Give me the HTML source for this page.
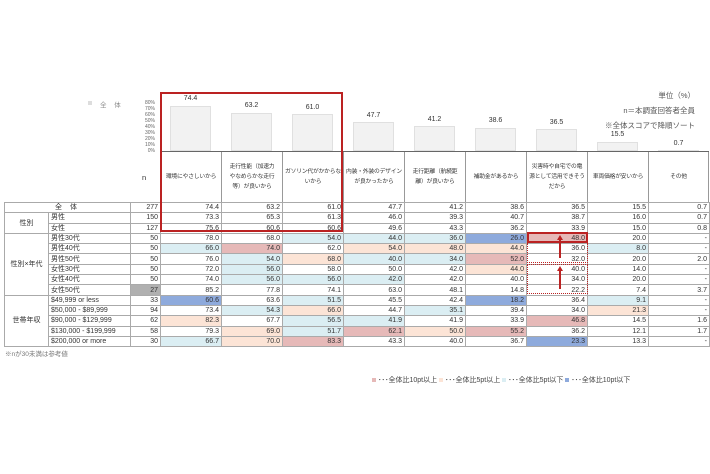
<!DOCTYPE html>
<html><head><meta charset="utf-8"><style>
body{margin:0;width:710px;height:474px;background:#fff;position:relative;overflow:hidden;font-family:"Liberation Sans","Noto Sans CJK JP",sans-serif;color:#222}
.a{position:absolute}
.bar{position:absolute;background:#f2f2f2;border:1px solid #e0e0e0;box-sizing:border-box;width:41px}
.bv{position:absolute;width:61px;text-align:center;font-size:7px;color:#333}
.yl{position:absolute;left:138px;width:17px;text-align:right;font-size:5px;color:#666;line-height:6px}
.hd{position:absolute;top:152px;height:50px;width:61px;border-left:1px solid #999;display:flex;align-items:center;justify-content:center;text-align:center;font-size:5.8px;letter-spacing:-0.2px;line-height:10px;color:#333;box-sizing:border-box;white-space:nowrap}
table{position:absolute;left:4px;top:202px;border-collapse:collapse;table-layout:fixed;font-size:7px;border:1.5px solid #444}
td{padding:0 2px;height:9.3px;line-height:9px;border:1px solid #aaa;white-space:nowrap;overflow:hidden;text-align:right;color:#333}
td.l{text-align:left}
td.g{text-align:center}
.P{background:#e6b9b8}.O{background:#fce4d6}.L{background:#dbeef3}.B{background:#8eaadc}.G{background:#b0b0b0}
tr.sep td{border-top:1.5px solid #444}
</style></head><body>
<div class="a" style="left:88px;top:101px;width:4px;height:4px;background:#ddd"></div>
<div class="a" style="left:100px;top:99px;font-size:6.5px;color:#888;letter-spacing:3px">全 体</div>
<div class="yl" style="top:100px">80%<br>70%<br>60%<br>50%<br>40%<br>30%<br>20%<br>10%<br>0%</div>

<div class="bar" style="left:170px;top:106px;height:45px"></div><div class="bv" style="left:160px;top:95px">74.4</div>
<div class="bar" style="left:231px;top:113px;height:38px"></div><div class="bv" style="left:221px;top:102px">63.2</div>
<div class="bar" style="left:292px;top:114px;height:37px"></div><div class="bv" style="left:282px;top:104px">61.0</div>
<div class="bar" style="left:353px;top:122px;height:29px"></div><div class="bv" style="left:343px;top:112px">47.7</div>
<div class="bar" style="left:414px;top:126px;height:25px"></div><div class="bv" style="left:404px;top:116px">41.2</div>
<div class="bar" style="left:475px;top:128px;height:23px"></div><div class="bv" style="left:465px;top:117px">38.6</div>
<div class="bar" style="left:536px;top:129px;height:22px"></div><div class="bv" style="left:526px;top:119px">36.5</div>
<div class="bar" style="left:597px;top:142px;height:9px"></div><div class="bv" style="left:587px;top:131px">15.5</div>
<div class="bar" style="left:658px;top:150px;height:1px"></div><div class="bv" style="left:648px;top:140px">0.7</div>

<div class="a" style="right:15px;top:90px;font-size:7.5px;color:#555">単位（%）</div>
<div class="a" style="right:15px;top:105px;font-size:7.5px;color:#555">n＝本調査回答者全員</div>
<div class="a" style="right:15px;top:120px;font-size:7.5px;color:#555">※全体スコアで降順ソート</div>

<div class="a" style="left:142px;top:173px;font-size:7.5px;color:#333">n</div>
<div class="a" style="left:160px;top:151px;width:549px;border-top:1px solid #666"></div>
<div class="hd" style="left:160px">環境にやさしいから</div>
<div class="hd" style="left:221px">走行性能（加速力<br>やなめらかな走行<br>等）が良いから</div>
<div class="hd" style="left:282px">ガソリン代がかからな<br>いから</div>
<div class="hd" style="left:343px">内装・外装のデザイン<br>が良かったから</div>
<div class="hd" style="left:404px">走行距離（航続距<br>離）が良いから</div>
<div class="hd" style="left:465px">補助金があるから</div>
<div class="hd" style="left:526px">災害時や自宅での電<br>源として活用できそう<br>だから</div>
<div class="hd" style="left:587px">車両価格が安いから</div>
<div class="hd" style="left:648px;border-right:1px solid #999">その他</div>

<table>
<colgroup><col style="width:44px"><col style="width:82px"><col style="width:30px"><col style="width:61px"><col style="width:61px"><col style="width:61px"><col style="width:61px"><col style="width:61px"><col style="width:61px"><col style="width:61px"><col style="width:61px"><col style="width:61px"></colgroup>
<tr><td colspan="2" class="g" style="letter-spacing:3px">全 体</td><td>277</td><td>74.4</td><td>63.2</td><td>61.0</td><td>47.7</td><td>41.2</td><td>38.6</td><td>36.5</td><td>15.5</td><td>0.7</td></tr>
<tr class="sep"><td rowspan="2" class="g">性別</td><td class="l">男性</td><td>150</td><td>73.3</td><td>65.3</td><td>61.3</td><td>46.0</td><td>39.3</td><td>40.7</td><td>38.7</td><td>16.0</td><td>0.7</td></tr>
<tr><td class="l">女性</td><td>127</td><td>75.6</td><td>60.6</td><td>60.6</td><td>49.6</td><td>43.3</td><td>36.2</td><td>33.9</td><td>15.0</td><td>0.8</td></tr>
<tr class="sep"><td rowspan="6" class="g">性別×年代</td><td class="l">男性30代</td><td>50</td><td>78.0</td><td>68.0</td><td class="L">54.0</td><td class="L">44.0</td><td class="L">36.0</td><td class="B">26.0</td><td class="P">48.0</td><td>20.0</td><td>-</td></tr>
<tr><td class="l">男性40代</td><td>50</td><td class="L">66.0</td><td class="P">74.0</td><td>62.0</td><td class="O">54.0</td><td class="O">48.0</td><td class="O">44.0</td><td>36.0</td><td class="L">8.0</td><td>-</td></tr>
<tr><td class="l">男性50代</td><td>50</td><td>76.0</td><td class="L">54.0</td><td class="O">68.0</td><td class="L">40.0</td><td class="L">34.0</td><td class="P">52.0</td><td>32.0</td><td>20.0</td><td>2.0</td></tr>
<tr><td class="l">女性30代</td><td>50</td><td>72.0</td><td class="L">56.0</td><td>58.0</td><td>50.0</td><td>42.0</td><td class="O">44.0</td><td>40.0</td><td>14.0</td><td>-</td></tr>
<tr><td class="l">女性40代</td><td>50</td><td>74.0</td><td class="L">56.0</td><td class="L">56.0</td><td class="L">42.0</td><td>42.0</td><td>40.0</td><td>34.0</td><td>20.0</td><td>-</td></tr>
<tr><td class="l">女性50代</td><td class="G">27</td><td>85.2</td><td>77.8</td><td>74.1</td><td>63.0</td><td>48.1</td><td>14.8</td><td>22.2</td><td>7.4</td><td>3.7</td></tr>
<tr class="sep"><td rowspan="5" class="g">世帯年収</td><td class="l">$49,999 or less</td><td>33</td><td class="B">60.6</td><td>63.6</td><td class="L">51.5</td><td>45.5</td><td>42.4</td><td class="B">18.2</td><td>36.4</td><td class="L">9.1</td><td>-</td></tr>
<tr><td class="l">$50,000 - $89,999</td><td>94</td><td>73.4</td><td class="L">54.3</td><td class="O">66.0</td><td>44.7</td><td class="L">35.1</td><td>39.4</td><td>34.0</td><td class="O">21.3</td><td>-</td></tr>
<tr><td class="l">$90,000 - $129,999</td><td>62</td><td class="O">82.3</td><td>67.7</td><td class="L">56.5</td><td class="L">41.9</td><td>41.9</td><td>33.9</td><td class="P">46.8</td><td>14.5</td><td>1.6</td></tr>
<tr><td class="l">$130,000 - $199,999</td><td>58</td><td>79.3</td><td class="O">69.0</td><td class="L">51.7</td><td class="P">62.1</td><td class="O">50.0</td><td class="P">55.2</td><td>36.2</td><td>12.1</td><td>1.7</td></tr>
<tr><td class="l">$200,000 or more</td><td>30</td><td class="L">66.7</td><td class="O">70.0</td><td class="P">83.3</td><td>43.3</td><td>40.0</td><td>36.7</td><td class="B">23.3</td><td>13.3</td><td>-</td></tr>
</table>

<div class="a" style="left:160px;top:92px;width:183px;height:140px;border:2px solid #b22;box-sizing:border-box"></div>
<div class="a" style="left:527px;top:232px;width:61px;height:11px;border:2px solid #b22;box-sizing:border-box"></div>
<div class="a" style="left:527px;top:243px;width:61px;height:20px;border:1.5px dotted #b22;border-top:none;box-sizing:border-box"></div>
<div class="a" style="left:527px;top:264px;width:61px;height:30px;border:1.5px dotted #b22;box-sizing:border-box"></div>
<div class="a" style="left:559px;top:238px;width:1.5px;height:20px;background:#b22"></div>
<div class="a" style="left:556.5px;top:235px;border-left:3px solid transparent;border-right:3px solid transparent;border-bottom:5px solid #b22"></div>
<div class="a" style="left:559px;top:270px;width:1.5px;height:19px;background:#b22"></div>
<div class="a" style="left:556.5px;top:266px;border-left:3px solid transparent;border-right:3px solid transparent;border-bottom:5px solid #b22"></div>

<div class="a" style="left:5px;top:348px;font-size:6.5px;color:#777">※nが30未満は参考値</div>
<div class="a" style="left:372px;top:375px;font-size:7px;color:#444;white-space:nowrap"><span style="display:inline-block;width:4px;height:4px;background:#e6b9b8"></span> ･･･全体比10pt以上 <span style="display:inline-block;width:4px;height:4px;background:#fce4d6"></span> ･･･全体比5pt以上 <span style="display:inline-block;width:4px;height:4px;background:#dbeef3"></span> ･･･全体比5pt以下 <span style="display:inline-block;width:4px;height:4px;background:#8eaadc"></span> ･･･全体比10pt以下</div>
</body></html>
